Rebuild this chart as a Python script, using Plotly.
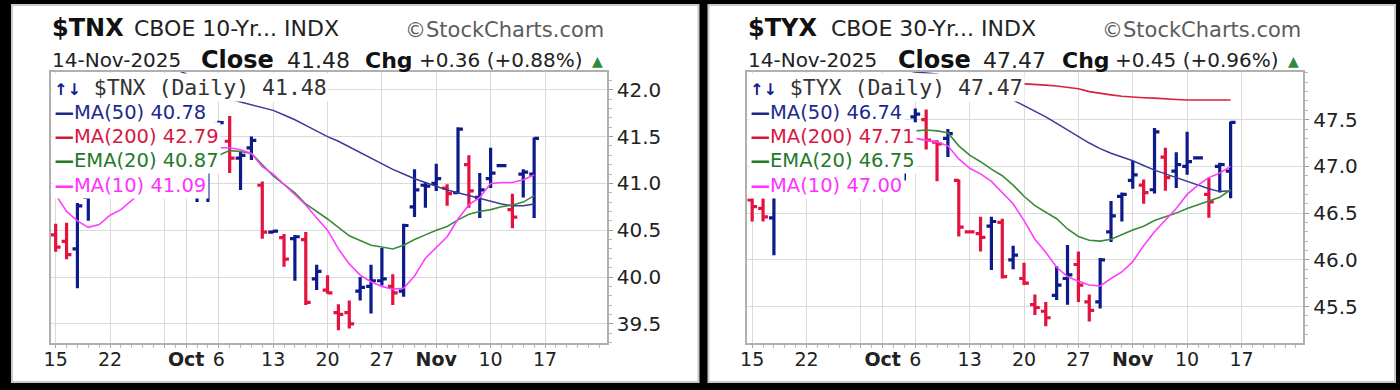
import plotly.graph_objects as go

W, H = 1400, 390
FONT = "DejaVu Sans"
MONO = "DejaVu Sans Mono"

# ---------------- data ----------------
DATES = ["Sep 15", "Sep 16", "Sep 17", "Sep 18", "Sep 19",
         "Sep 22", "Sep 23", "Sep 24", "Sep 25", "Sep 26",
         "Sep 29", "Sep 30", "Oct 1", "Oct 2", "Oct 3",
         "Oct 6", "Oct 7", "Oct 8", "Oct 9", "Oct 10",
         "Oct 13", "Oct 14", "Oct 15", "Oct 16", "Oct 17",
         "Oct 20", "Oct 21", "Oct 22", "Oct 23", "Oct 24",
         "Oct 27", "Oct 28", "Oct 29", "Oct 30", "Oct 31",
         "Nov 3", "Nov 4", "Nov 5", "Nov 6", "Nov 7",
         "Nov 10", "Nov 11", "Nov 12", "Nov 13", "Nov 14"]

X_TICK_POS = [0, 5, 10, 12, 15, 20, 25, 30, 35, 40, 45]
X_TICK_TEXT = ["15", "22", "", "<b>Oct</b>", "6", "13", "20", "27", "<b>Nov</b>", "10", "17"]

# ---- $TNX ----
TNX_PREV_CLOSE = 40.63
TNX_OPEN = [40.45, 40.38, 40.30, 40.85, 41.10, 41.35, 41.35, 41.15, 41.55, 41.70,
            41.75, 41.40, 41.45, 40.95, 41.00, 41.63, 41.45, 41.27, 41.38, 40.98,
            40.48, 40.42, 40.41, 40.40, 39.98, 39.86, 39.62, 39.62, 39.85, 39.90,
            39.96, 39.90, 39.85, 40.75, 40.98, 41.00, 40.95, 40.90, 41.20, 40.85,
            41.05, 41.19, 40.72, 41.10, 41.10]
TNX_HIGH = [40.57, 40.58, 40.79, 41.18, 41.40, 41.50, 41.45, 41.62, 41.80, 41.90,
            41.80, 41.60, 41.50, 41.10, 41.25, 41.67, 41.72, 41.34, 41.50, 41.02,
            40.50, 40.46, 40.45, 40.48, 40.13, 40.02, 39.71, 39.75, 40.00, 40.13,
            40.31, 40.03, 40.57, 41.15, 41.01, 41.21, 40.99, 41.60, 41.30, 41.11,
            41.38, 41.20, 40.89, 41.15, 41.49]
TNX_LOW = [40.27, 40.19, 39.88, 40.60, 41.00, 41.20, 41.00, 41.10, 41.45, 41.60,
           41.35, 41.30, 40.95, 40.80, 40.80, 41.61, 41.11, 40.93, 41.25, 40.41,
           40.47, 40.11, 39.96, 39.70, 39.86, 39.82, 39.43, 39.45, 39.75, 39.61,
           39.91, 39.70, 39.79, 40.64, 40.74, 40.92, 40.76, 40.89, 40.74, 40.63,
           40.95, 41.18, 40.52, 40.85, 40.63]
TNX_CLOSE = [40.32, 40.24, 40.76, 41.05, 41.30, 41.40, 41.12, 41.55, 41.70, 41.80,
             41.45, 41.50, 41.00, 41.02, 41.15, 41.65, 41.27, 41.30, 41.46, 40.48,
             40.49, 40.19, 40.43, 39.73, 40.06, 39.83, 39.60, 39.50, 39.89, 39.96,
             39.98, 39.83, 40.55, 40.93, 40.97, 41.05, 40.89, 41.58, 40.92, 40.93,
             41.11, 41.19, 40.64, 41.12, 41.48]
TNX_MA50 = [42.62, 42.58, 42.55, 42.52, 42.48, 42.45, 42.41, 42.37, 42.33, 42.29,
            42.25, 42.22, 42.17, 42.08, 42.01, 41.95, 41.90, 41.87, 41.84, 41.81,
            41.78, 41.73, 41.68, 41.62, 41.56, 41.50, 41.45, 41.39, 41.33, 41.27,
            41.21, 41.15, 41.10, 41.05, 41.01, 40.97, 40.93, 40.90, 40.87, 40.84,
            40.81, 40.78, 40.76, 40.76, 40.78]
TNX_MA200 = [42.97, 42.96, 42.96, 42.95, 42.95, 42.94, 42.94, 42.93, 42.93, 42.92,
             42.92, 42.91, 42.91, 42.90, 42.90, 42.89, 42.89, 42.88, 42.88, 42.87,
             42.87, 42.86, 42.86, 42.85, 42.85, 42.84, 42.84, 42.83, 42.83, 42.82,
             42.82, 42.82, 42.81, 42.81, 42.81, 42.80, 42.80, 42.80, 42.80, 42.79,
             42.79, 42.79, 42.79, 42.79, 42.79]
TNX_EMA20 = [41.00, 40.96, 40.96, 40.97, 41.00, 41.04, 41.05, 41.10, 41.15, 41.21,
             41.23, 41.26, 41.24, 41.22, 41.23, 41.30, 41.35, 41.34, 41.32, 41.20,
             41.08, 40.99, 40.90, 40.78, 40.70, 40.62, 40.53, 40.44, 40.39, 40.34,
             40.32, 40.30, 40.34, 40.40, 40.45, 40.50, 40.54, 40.61, 40.67, 40.70,
             40.72, 40.75, 40.77, 40.80, 40.87]
TNX_MA10 = [40.88, 40.70, 40.60, 40.53, 40.56, 40.66, 40.72, 40.82, 40.92, 41.02,
            41.10, 41.18, 41.25, 41.30, 41.33, 41.38, 41.38, 41.36, 41.32, 41.18,
            41.10, 40.99, 40.88, 40.77, 40.63, 40.50, 40.30, 40.14, 40.02, 39.95,
            39.90, 39.87, 39.88, 40.01, 40.20, 40.32, 40.43, 40.62, 40.77, 40.85,
            41.00, 41.01, 41.01, 41.04, 41.09]

# ---- $TYX ----
TYX_PREV_CLOSE = 46.70
TYX_OPEN = [46.64, 46.55, 46.45, 46.90, 47.25, 47.45, 47.35, 47.15, 47.50, 47.60,
            47.55, 47.30, 47.25, 46.95, 47.05, 47.53, 47.50, 47.26, 47.30, 46.85,
            46.30, 46.28, 46.36, 46.40, 46.00, 45.80, 45.52, 45.45, 45.62, 45.80,
            45.95, 45.55, 45.55, 46.30, 46.68, 46.85, 46.80, 46.75, 47.10, 46.95,
            47.00, 47.09, 46.70, 47.00, 46.95]
TYX_HIGH = [46.70, 46.66, 46.95, 47.35, 47.55, 47.55, 47.42, 47.55, 47.70, 47.78,
            47.60, 47.45, 47.30, 47.10, 47.30, 47.62, 47.61, 47.28, 47.40, 46.86,
            46.31, 46.46, 46.46, 46.44, 46.15, 45.97, 45.63, 45.55, 45.93, 46.16,
            46.09, 45.63, 46.02, 46.63, 46.72, 47.06, 46.86, 47.41, 47.20, 47.15,
            47.37, 47.10, 46.88, 47.04, 47.48]
TYX_LOW = [46.41, 46.41, 46.05, 46.80, 47.15, 47.30, 47.05, 47.10, 47.40, 47.50,
           47.20, 47.20, 46.85, 46.80, 46.85, 47.47, 47.18, 46.84, 47.10, 46.25,
           46.29, 46.09, 45.89, 45.80, 45.90, 45.73, 45.41, 45.29, 45.57, 45.52,
           45.55, 45.34, 45.48, 46.19, 46.41, 46.76, 46.60, 46.71, 46.74, 46.77,
           46.91, 47.08, 46.45, 46.72, 46.66]
TYX_CLOSE = [46.57, 46.46, 46.85, 47.22, 47.45, 47.40, 47.10, 47.48, 47.60, 47.65,
             47.30, 47.32, 46.95, 47.05, 47.20, 47.56, 47.28, 47.24, 47.35, 46.35,
             46.30, 46.24, 46.41, 45.82, 46.05, 45.75, 45.49, 45.38, 45.73, 45.84,
             45.73, 45.46, 46.00, 46.47, 46.70, 46.91, 46.72, 47.37, 46.88, 47.02,
             47.05, 47.09, 46.62, 47.02, 47.47]
TYX_MA50 = [48.55, 48.50, 48.46, 48.42, 48.38, 48.34, 48.30, 48.26, 48.22, 48.18,
            48.14, 48.11, 48.08, 48.05, 48.03, 48.01, 48.00, 47.99, 47.95, 47.91,
            47.87, 47.83, 47.79, 47.75, 47.71, 47.65, 47.59, 47.53, 47.46, 47.39,
            47.32, 47.25, 47.19, 47.14, 47.10, 47.06, 47.01, 46.96, 46.92, 46.88,
            46.84, 46.80, 46.76, 46.73, 46.74]
TYX_MA200 = [47.96, 47.96, 47.955, 47.955, 47.95, 47.95, 47.945, 47.94, 47.94, 47.935,
             47.93, 47.93, 47.925, 47.92, 47.92, 47.915, 47.91, 47.91, 47.905, 47.90,
             47.90, 47.90, 47.895, 47.895, 47.89, 47.885, 47.88, 47.87, 47.86, 47.845,
             47.83, 47.80, 47.78, 47.765, 47.75, 47.74, 47.735, 47.73, 47.72, 47.715,
             47.71, 47.71, 47.71, 47.71, 47.71]
TYX_EMA20 = [46.98, 46.93, 46.92, 46.95, 46.99, 47.03, 47.04, 47.08, 47.13, 47.18,
             47.19, 47.21, 47.19, 47.18, 47.30, 47.38, 47.39, 47.38, 47.36, 47.22,
             47.12, 47.05, 46.97, 46.90, 46.80, 46.68, 46.58, 46.51, 46.44, 46.33,
             46.25, 46.21, 46.20, 46.22, 46.27, 46.32, 46.36, 46.42, 46.46, 46.50,
             46.55, 46.59, 46.63, 46.67, 46.75]
TYX_MA10 = [46.80, 46.75, 46.74, 46.76, 46.82, 46.90, 46.95, 47.05, 47.14, 47.22,
            47.28, 47.33, 47.36, 47.35, 47.32, 47.30, 47.28, 47.26, 47.22, 47.08,
            46.98, 46.92, 46.84, 46.72, 46.60, 46.42, 46.22, 46.08, 45.92, 45.82,
            45.77, 45.73, 45.72, 45.80, 45.87, 45.98, 46.15, 46.30, 46.42, 46.55,
            46.70, 46.80, 46.88, 46.93, 47.00]

PANELS = [
    dict(sym="$TNX", name="CBOE 10-Yr... INDX", date="14-Nov-2025",
         close="41.48", chg="+0.36 (+0.88%)",
         o=TNX_OPEN, h=TNX_HIGH, l=TNX_LOW, c=TNX_CLOSE, prev=TNX_PREV_CLOSE,
         ma50=TNX_MA50, ma200=TNX_MA200, ema20=TNX_EMA20, ma10=TNX_MA10,
         yrange=[39.295, 42.19], yticks=[39.5, 40.0, 40.5, 41.0, 41.5, 42.0]),
    dict(sym="$TYX", name="CBOE 30-Yr... INDX", date="14-Nov-2025",
         close="47.47", chg="+0.45 (+0.96%)",
         o=TYX_OPEN, h=TYX_HIGH, l=TYX_LOW, c=TYX_CLOSE, prev=TYX_PREV_CLOSE,
         ma50=TYX_MA50, ma200=TYX_MA200, ema20=TYX_EMA20, ma10=TYX_MA10,
         yrange=[45.11, 48.01], yticks=[45.5, 46.0, 46.5, 47.0, 47.5]),
]

# ---------------- styles ----------------
UP = "#0c1a8a"
DOWN = "#e3123e"
C_MA50 = "#3a3a9a"
C_MA200 = "#d9203f"
C_EMA20 = "#3a8a3a"
C_MA10 = "#ff3cff"
T_MA50 = "#1c2a8c"
T_MA200 = "#d6183f"
T_EMA20 = "#1f7a2a"
T_MA10 = "#ff33ff"
GRID = "#dadada"
AXLINE = "#b0b0b0"

fig = go.Figure()
shapes = []
annotations = []


def px(xp):
    return xp / W


def py(yp):
    return 1 - yp / H


def ann(text, x, y, size, color="#222", family=FONT, xanchor="left", bg=None, pad=0):
    d = dict(text=text, x=px(x), y=py(y), xref="paper", yref="paper",
             xanchor=xanchor, yanchor="middle", showarrow=False,
             font=dict(family=family, size=size, color=color), borderpad=pad)
    if bg:
        d["bgcolor"] = bg
    return d


layout_axes = {}
for k, p in enumerate(PANELS):
    off = 700 * k
    sfx = "" if k == 0 else str(k + 1)
    xref = "x" + sfx
    yref = "y" + sfx
    xs = list(range(len(DATES)))

    # up / down split by close vs previous close
    prevs = [p["prev"]] + p["c"][:-1]
    up_idx = [i for i in xs if p["c"][i] >= prevs[i]]
    dn_idx = [i for i in xs if p["c"][i] < prevs[i]]
    for idxs, col in ((up_idx, UP), (dn_idx, DOWN)):
        fig.add_trace(go.Ohlc(
            x=idxs,
            open=[p["o"][i] for i in idxs], high=[p["h"][i] for i in idxs],
            low=[p["l"][i] for i in idxs], close=[p["c"][i] for i in idxs],
            increasing=dict(line=dict(color=col, width=3.2)),
            decreasing=dict(line=dict(color=col, width=3.2)),
            tickwidth=0.45, xaxis=xref, yaxis=yref, showlegend=False,
            hoverinfo="skip"))

    for series, col, wid in ((p["ma200"], C_MA200, 1.6), (p["ma50"], C_MA50, 1.5),
                             (p["ema20"], C_EMA20, 1.6), (p["ma10"], C_MA10, 1.6)):
        fig.add_trace(go.Scatter(x=xs, y=series, mode="lines",
                                 line=dict(color=col, width=wid),
                                 xaxis=xref, yaxis=yref, showlegend=False,
                                 hoverinfo="skip"))

    layout_axes["xaxis" + sfx] = dict(
        domain=[px(44 + off), px(603 + off)], anchor=yref,
        range=[-0.45, 50.7], tickmode="array", tickvals=X_TICK_POS, ticktext=X_TICK_TEXT,
        showgrid=True, gridcolor=GRID, gridwidth=1, zeroline=False,
        showline=True, linecolor=AXLINE, linewidth=1.5, mirror=True,
        ticks="outside", ticklen=3, tickcolor="#a8a8a8", ticklabelstandoff=-5,
        tickfont=dict(family=FONT, size=19, color="#222"),
        minor=dict(tickmode="linear", tick0=0, dtick=1, ticks="outside", ticklen=3,
                   tickcolor="#b8b8b8", showgrid=False),
        rangeslider=dict(visible=False), fixedrange=True)
    layout_axes["yaxis" + sfx] = dict(
        domain=[py(343), py(72)], anchor=xref, side="right",
        range=p["yrange"], tickmode="array", tickvals=p["yticks"], tickformat=".1f",
        showgrid=True, gridcolor=GRID, gridwidth=1, zeroline=False,
        showline=True, linecolor=AXLINE, linewidth=1.5, mirror=True,
        ticks="outside", ticklen=4, tickcolor="#9a9a9a",
        tickfont=dict(family=FONT, size=20, color="#222"),
        minor=dict(tickmode="linear", tick0=0, dtick=0.1, ticks="outside", ticklen=3,
                   tickcolor="#b8b8b8", showgrid=False),
        fixedrange=True)

    # panel background
    shapes.append(dict(type="rect", xref="paper", yref="paper",
                       x0=px(5 + off), x1=px(695 + off), y0=py(382), y1=py(5),
                       fillcolor="white", line=dict(color="#c8c8c8", width=2),
                       layer="below"))

    # header
    annotations += [
        ann("<b>%s</b>" % p["sym"], 44 + off, 28, 24, color="#111"),
        ann(p["name"], 127 + off, 29, 22, color="#222"),
        ann("©StockCharts.com", 399 + off, 30, 21, color="#5c5c5c"),
        ann(p["date"], 44 + off, 60, 20, color="#222"),
        ann("<b>Close</b>", 194 + off, 60, 24, color="#111"),
        ann(p["close"], 280 + off, 60, 22, color="#222"),
        ann("<b>Chg</b>", 359 + off, 60, 22, color="#111"),
        ann(p["chg"], 413 + off, 60, 20, color="#222"),
        ann("▲", 593 + off, 61, 14, color="#2e8b3e", xanchor="center"),
    ]

    # in-chart legend rows (white text boxes cover the plot behind them)
    last_close = "%.2f" % p["c"][-1]
    annotations.append(ann(
        "<span style='font-size:16px;font-weight:bold;font-family:DejaVu Sans;color:%s'>↑↓</span>"
        " %s (Daily) %s" % (UP, p["sym"], last_close),
        45 + off, 88, 21.5, color="#333", family=MONO, bg="white", pad=1))
    rows = [("MA(50) %.2f" % p["ma50"][-1], T_MA50, 112),
            ("MA(200) %.2f" % p["ma200"][-1], T_MA200, 136),
            ("EMA(20) %.2f" % p["ema20"][-1], T_EMA20, 160),
            ("MA(10) %.2f" % p["ma10"][-1], T_MA10, 184.5)]
    for txt, col, yy in rows:
        annotations.append(ann("<b>—</b>" + txt, 45 + off, yy, 19.5, color=col,
                               bg="white", pad=1.5))

fig.update_layout(
    width=W, height=H, margin=dict(l=0, r=0, t=0, b=0),
    paper_bgcolor="black", plot_bgcolor="white",
    shapes=shapes, annotations=annotations, showlegend=False,
    **layout_axes)

fig.write_html("out.html", config={"displayModeBar": False})
